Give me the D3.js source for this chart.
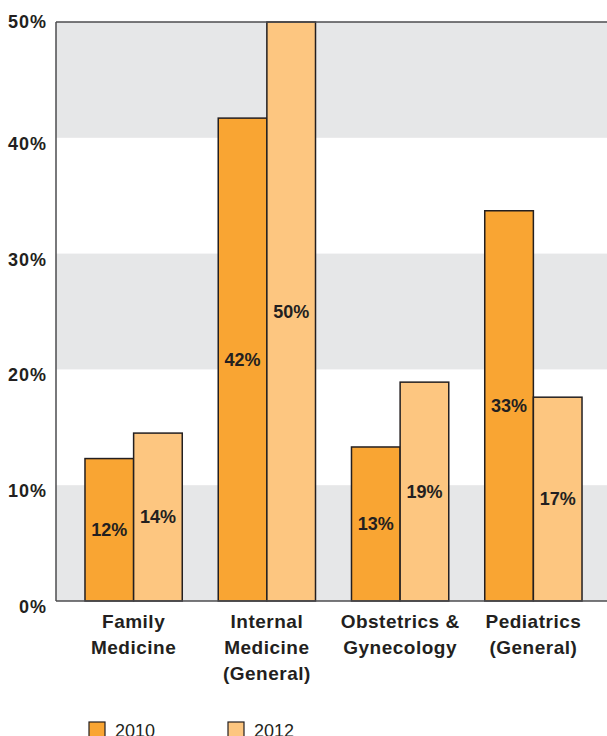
<!DOCTYPE html>
<html>
<head>
<meta charset="utf-8">
<script src="https://cdn.jsdelivr.net/npm/d3@7"></script>
<style>
  body { margin: 0; background: #fff; }
  text { font-family: "Liberation Sans", Arial, sans-serif; fill: #231f20; }
  .ylab { font-size: 18px; font-weight: bold; letter-spacing: 1px; }
  .cat { font-size: 19px; font-weight: bold; letter-spacing: 0.5px; }
  .val { font-size: 18px; font-weight: bold; }
  .leg { font-size: 18px; }
</style>
</head>
<body>
<svg width="607" height="736"></svg>
<script>
// data
var categories = ["Family Medicine", "Internal Medicine (General)", "Obstetrics & Gynecology", "Pediatrics (General)"];
var categoryLines = [["Family", "Medicine"], ["Internal", "Medicine", "(General)"], ["Obstetrics &", "Gynecology"], ["Pediatrics", "(General)"]];
var years = ["2010", "2012"];
var values2010 = [12.3, 41.7, 13.3, 33.7];
var values2012 = [14.5, 50, 18.9, 17.6];
var labels2010 = ["12%", "42%", "13%", "33%"];
var labels2012 = ["14%", "50%", "19%", "17%"];
var yTicks = [0, 10, 20, 30, 40, 50];
var colors = {"2010": "#f9a533", "2012": "#fdc680"};

var svg = d3.select("svg");

var y = d3.scaleLinear().domain([0, 50]).range([601, 22]);
var x = d3.scaleBand().domain(categories).range([56, 611])
    .paddingInner(0.27).paddingOuter(0.2175);
var xs = d3.scaleBand().domain(years).range([0, x.bandwidth()]);

// shaded bands
var bands = [[0, 10], [20, 30], [40, 50]];
svg.selectAll("rect.band")
    .data(bands)
    .enter()
    .append("rect")
    .attr("class", "band")
    .attr("x", 56)
    .attr("width", 607 - 56)
    .attr("y", function(d) { return y(d[1]); })
    .attr("height", function(d) { return y(d[0]) - y(d[1]); })
    .style("fill", "#e6e7e8");

// bars
var rows = [];
categories.forEach(function(c, i) {
    rows.push({cat: c, year: "2010", value: values2010[i], label: labels2010[i]});
    rows.push({cat: c, year: "2012", value: values2012[i], label: labels2012[i]});
});

var g = svg.selectAll("g.bar")
    .data(rows)
    .enter()
    .append("g")
    .attr("class", "bar");

g.append("rect")
    .attr("x", function(d) { return x(d.cat) + xs(d.year); })
    .attr("width", xs.bandwidth())
    .attr("y", function(d) { return y(d.value); })
    .attr("height", function(d) { return y(0) - y(d.value); })
    .style("fill", function(d) { return colors[d.year]; })
    .style("stroke", "#231f20")
    .style("stroke-width", 1.5);

g.append("text")
    .attr("class", "val")
    .attr("text-anchor", "middle")
    .attr("x", function(d) { return x(d.cat) + xs(d.year) + xs.bandwidth() / 2; })
    .attr("y", function(d) { return (y(d.value) + y(0)) / 2 + 6; })
    .text(function(d) { return d.label; });

// axis lines
svg.append("line")
    .attr("x1", 56).attr("x2", 56).attr("y1", y(50)).attr("y2", y(0))
    .style("stroke", "#4d4d4f").style("stroke-width", 1.5);
svg.append("line")
    .attr("x1", 56).attr("x2", 607).attr("y1", y(0)).attr("y2", y(0))
    .style("stroke", "#4d4d4f").style("stroke-width", 1.5);
svg.append("line")
    .attr("x1", 56).attr("x2", 607).attr("y1", y(50)).attr("y2", y(50))
    .style("stroke", "#4d4d4f").style("stroke-width", 1.5);

// y labels
svg.selectAll("text.ylab")
    .data(yTicks)
    .enter()
    .append("text")
    .attr("class", "ylab")
    .attr("text-anchor", "end")
    .attr("x", 47)
    .attr("y", function(d) { return y(d) + (d === 50 ? 6 : 12); })
    .text(function(d) { return d + "%"; });

// category labels
var cat = svg.selectAll("text.cat")
    .data(categories)
    .enter()
    .append("text")
    .attr("class", "cat")
    .attr("text-anchor", "middle")
    .attr("transform", function(d) { return "translate(" + (x(d) + x.bandwidth() / 2) + ",628)"; });

cat.selectAll("tspan")
    .data(function(d, i) { return categoryLines[i]; })
    .enter()
    .append("tspan")
    .attr("x", 0)
    .attr("y", function(d, i) { return i * 26; })
    .text(function(d) { return d; });

// legend
var legX = [89, 228];
var leg = svg.selectAll("g.leg")
    .data(years)
    .enter()
    .append("g")
    .attr("class", "leg")
    .attr("transform", function(d, i) { return "translate(" + legX[i] + ",722)"; });

leg.append("rect")
    .attr("width", 16).attr("height", 16)
    .style("fill", function(d) { return colors[d]; })
    .style("stroke", "#231f20")
    .style("stroke-width", 1.2);

leg.append("text")
    .attr("class", "leg")
    .attr("x", 26)
    .attr("y", 15)
    .text(function(d) { return d; });
</script>
</body>
</html>
